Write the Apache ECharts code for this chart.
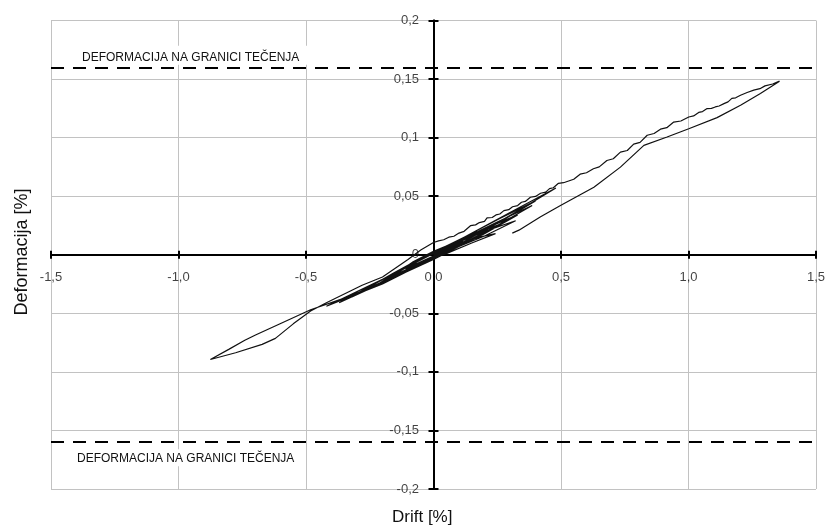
<!DOCTYPE html>
<html>
<head>
<meta charset="utf-8">
<script src="https://cdn.jsdelivr.net/npm/echarts@6/dist/echarts.min.js"></script>
<style>html,body{margin:0;padding:0;background:#fff}#c{width:826px;height:528px}</style>
</head>
<body>
<div id="c"></div>
<script>
// ---- data (drift [%], deformacija [%]) ----
const xTicks = [-1.5, -1.0, -0.5, 0, 0.5, 1.0, 1.5];
const xTickLabels = ['-1,5', '-1,0', '-0,5', '0,0', '0,5', '1,0', '1,5'];
const yTicks = [-0.2, -0.15, -0.1, -0.05, 0, 0.05, 0.1, 0.15, 0.2];
const yTickLabels = ['-0,2', '-0,15', '-0,1', '-0,05', '0', '0,05', '0,1', '0,15', '0,2'];
const yieldLevels = [0.16, -0.16];
const yieldLabel = 'DEFORMACIJA NA GRANICI TEČENJA';
const xAxisName = 'Drift [%]';
const yAxisName = 'Deformacija [%]';

const cycle1a = [[0,0],[0.05,0.006],[0.1,0.012],[0.05,0.005],[0,-0.001],[-0.05,-0.006],[-0.1,-0.011],[-0.05,-0.004],[0,0.001]];
const cycle1b = [[0.05,0.007],[0.11,0.013],[0.05,0.004],[0,-0.002],[-0.06,-0.007],[-0.11,-0.012],[-0.05,-0.003],[0,0.002]];
const cycle2a = [[0.08,0.010],[0.16,0.019],[0.08,0.008],[0,-0.002],[-0.08,-0.010],[-0.16,-0.018],[-0.08,-0.007],[0,0.002]];
const cycle2b = [[0.09,0.011],[0.17,0.020],[0.08,0.007],[0,-0.003],[-0.09,-0.012],[-0.17,-0.020],[-0.08,-0.006],[0,0.003]];
const cycle3a = [[0.1,0.010],[0.18,0.015],[0.243,0.018],[0.15,0.010],[0.05,0.001],[0,-0.003],[-0.1,-0.013],[-0.21,-0.024],[-0.1,-0.010],[0,0.002]];
const cycle3b = [[0.1,0.012],[0.2,0.021],[0.26,0.026],[0.15,0.013],[0.05,0.002],[0,-0.004],[-0.12,-0.016],[-0.24,-0.028],[-0.12,-0.012],[0,0.003]];
const cycle4a = [[0.1,0.011],[0.2,0.020],[0.322,0.029],[0.2,0.016],[0.1,0.007],[0,-0.003],[-0.14,-0.017],[-0.29,-0.032],[-0.14,-0.014],[0,0.002]];
const cycle4b = [[0.1,0.012],[0.22,0.024],[0.33,0.034],[0.2,0.018],[0.1,0.007],[0,-0.004],[-0.16,-0.020],[-0.32,-0.036],[-0.16,-0.016],[0,0.003]];
const cycle5a = [[0.1,0.012],[0.25,0.028],[0.387,0.042],[0.25,0.025],[0.1,0.008],[0,-0.003],[-0.18,-0.022],[-0.37,-0.041],[-0.18,-0.019],[0,0.001]];
const cycle5b = [[0.12,0.015],[0.26,0.031],[0.40,0.046],[0.26,0.028],[0.1,0.009],[0,-0.003],[-0.2,-0.025],[-0.42,-0.044],[-0.2,-0.021],[0,0.002]];
const cycle6Up = [[0.12,0.015],[0.3,0.036],[0.48,0.057]];
const cycle6Down = [[0.35,0.040],[0.2,0.021],[0.1,0.009],[0,-0.002],[-0.1,-0.013],[-0.2,-0.024],[-0.35,-0.037],[-0.482,-0.047],[-0.593,-0.058],[-0.698,-0.0685],[-0.74,-0.073],[-0.803,-0.0808],[-0.875,-0.0894]];
const bigUp = [[-0.776,-0.0837],[-0.672,-0.0765],[-0.62,-0.0714],[-0.55,-0.059],[-0.482,-0.048],[-0.42,-0.041],[-0.352,-0.0337],[-0.28,-0.026],[-0.2,-0.019],[-0.1,-0.004],[-0.05,0.004],[0,0.0105],[0.02,0.0118],[0.04,0.0128],[0.06,0.0150],[0.08,0.0158],[0.1,0.0185],[0.12,0.0200],[0.145,0.0248],[0.165,0.0255],[0.18,0.0275],[0.2,0.0285],[0.21,0.0315],[0.23,0.0318],[0.245,0.0340],[0.26,0.0348],[0.276,0.0377],[0.295,0.0385],[0.31,0.0410],[0.33,0.0420],[0.345,0.0448],[0.36,0.0455],[0.38,0.0491],[0.40,0.0498],[0.42,0.0525],[0.44,0.0535],[0.455,0.0565],[0.47,0.0572],[0.49,0.0610],[0.51,0.0615],[0.53,0.0630],[0.55,0.0645],[0.575,0.0688],[0.6,0.0700],[0.627,0.0734],[0.65,0.0750],[0.68,0.0805],[0.705,0.0820],[0.733,0.0876],[0.76,0.0890],[0.785,0.0945],[0.81,0.0960],[0.838,0.1020],[0.865,0.1035],[0.89,0.1072],[0.915,0.1085],[0.942,0.1133],[0.97,0.1142],[1.001,0.1176],[1.02,0.1185],[1.04,0.1215],[1.055,0.1222],[1.073,0.1248],[1.09,0.1250],[1.105,0.1262],[1.12,0.1270],[1.139,0.1290],[1.155,0.1305],[1.17,0.1335],[1.185,0.1340],[1.204,0.1362],[1.23,0.1385],[1.256,0.1405],[1.28,0.1418],[1.3,0.1442],[1.33,0.1458],[1.357,0.1482]];
const bigDown = [[1.282,0.1376],[1.204,0.1276],[1.112,0.1171],[1.001,0.1076],[0.916,0.1005],[0.825,0.0934],[0.733,0.0748],[0.629,0.0577],[0.498,0.042],[0.42,0.0325],[0.335,0.021],[0.309,0.0185]];

const curve = [].concat(cycle1a, cycle1b, cycle2a, cycle2b, cycle3a, cycle3b, cycle4a, cycle4b,
  cycle5a, cycle5b, cycle6Up, cycle6Down, bigUp, bigDown);

const FONT = 'Liberation Sans, Arial, sans-serif';

const chart = echarts.init(document.getElementById('c'), null, {renderer: 'canvas'});
const axisLineStyle = {color: '#000', width: 2};
const tickStyle = {color: '#000', width: 2};
const gridLine = {show: true, lineStyle: {color: '#c2c2c2', width: 1}};

chart.setOption({
  animation: false,
  backgroundColor: '#fff',
  grid: {left: 51, right: 10, top: 20.5, bottom: 39, containLabel: false},
  xAxis: [{
    type: 'value', min: -1.5, max: 1.5, interval: 0.5, position: 'bottom',
    axisLine: {show: true, onZero: true, lineStyle: axisLineStyle},
    axisTick: {show: true, length: 4, lineStyle: tickStyle},
    axisLabel: {show: false},
    splitLine: gridLine
  }, {
    type: 'value', min: -1.5, max: 1.5, interval: 0.5, position: 'bottom',
    axisLine: {show: true, onZero: true, onZeroAxisIndex: 0, lineStyle: axisLineStyle},
    axisTick: {show: true, inside: true, length: 4, lineStyle: tickStyle},
    axisLabel: {show: false}, splitLine: {show: false}
  }],
  yAxis: [{
    type: 'value', min: -0.2, max: 0.2, interval: 0.05, position: 'left',
    axisLine: {show: true, onZero: true, lineStyle: axisLineStyle},
    axisTick: {show: true, length: 5, lineStyle: tickStyle},
    axisLabel: {show: false},
    splitLine: gridLine
  }, {
    type: 'value', min: -0.2, max: 0.2, interval: 0.05, position: 'left',
    axisLine: {show: true, onZero: true, onZeroAxisIndex: 0, lineStyle: axisLineStyle},
    axisTick: {show: true, inside: true, length: 5, lineStyle: tickStyle},
    axisLabel: {show: false}, splitLine: {show: false}
  }],
  graphic: [
    {type: 'text', left: 392, top: 509, style: {text: xAxisName, font: '17px ' + FONT, fill: '#111'}},
    {type: 'text', x: 22, y: 252, rotation: Math.PI / 2,
     style: {text: yAxisName, font: '18px ' + FONT, fill: '#111', align: 'center', verticalAlign: 'middle'}}
  ],
  series: [{
    type: 'line', xAxisIndex: 0, yAxisIndex: 0, data: curve,
    showSymbol: false, symbol: 'none', smooth: false,
    lineStyle: {color: '#111', width: 1.2},
    z: 3,
    markLine: {
      silent: true, symbol: 'none', animation: false,
      lineStyle: {color: '#000', width: 2, type: [13, 9]},
      data: [
        {yAxis: yieldLevels[0], label: {show: true, position: 'insideStartTop', distance: [21, 2.5], formatter: yieldLabel,
          fontSize: 12, fontFamily: FONT, color: '#111', backgroundColor: '#fff', padding: [6, 10, 1, 10]}},
        {yAxis: yieldLevels[1], label: {show: true, position: 'insideStartBottom', distance: [16, 7], formatter: yieldLabel,
          fontSize: 12, fontFamily: FONT, color: '#111', backgroundColor: '#fff', padding: [4, 10, 1, 10]}}
      ]
    }
  }, {
    // x tick labels, placed through the axes' scales on the zero line
    type: 'scatter', xAxisIndex: 0, yAxisIndex: 0, silent: true,
    data: xTicks.map(function (v) { return [v, 0]; }),
    symbolSize: 1, itemStyle: {color: 'rgba(0,0,0,0)'}, z: 5,
    label: {show: true, position: 'bottom', distance: 16, fontSize: 13, fontFamily: FONT, color: '#111',
      formatter: function (p) { return xTickLabels[p.dataIndex]; }}
  }, {
    // y tick labels on the zero line
    type: 'scatter', xAxisIndex: 0, yAxisIndex: 0, silent: true,
    data: yTicks.map(function (v) { return [0, v]; }),
    symbolSize: 1, itemStyle: {color: 'rgba(0,0,0,0)'}, z: 5,
    label: {show: true, position: 'left', distance: 14, fontSize: 13, fontFamily: FONT, color: '#111',
      formatter: function (p) { return yTickLabels[p.dataIndex]; }}
  }]
});
</script>
</body>
</html>
